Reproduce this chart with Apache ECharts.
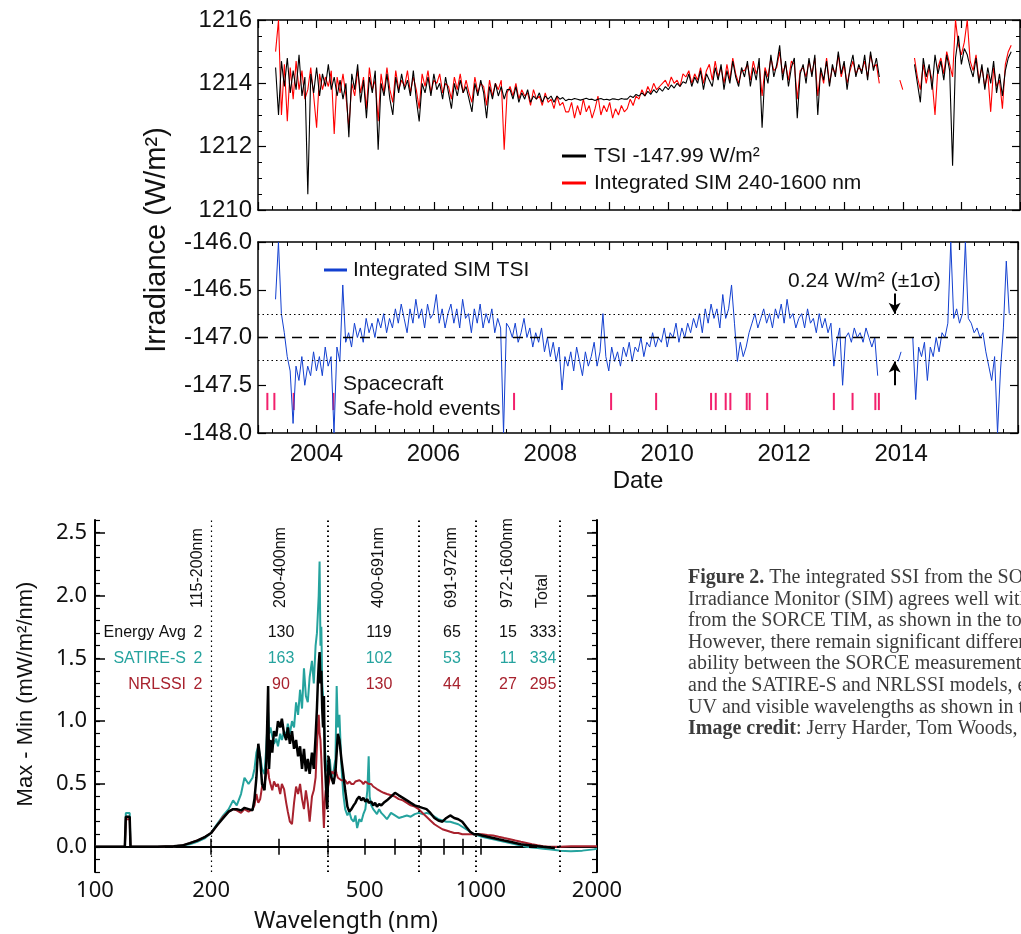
<!DOCTYPE html>
<html><head><meta charset="utf-8">
<script src="https://cdn.jsdelivr.net/npm/echarts@6/dist/echarts.min.js"></script>
<style>html,body{margin:0;padding:0;background:#fff}#c{width:1021px;height:934px}</style>
</head><body><div id="c"></div>
<script>
// ---------- time-series panels (regular grid, 0.05 yr) ----------
const dateStart = 2003.30;
const dateStep = 0.05;
const tsiShifted = [
1214.5,1213.0,1214.7,1213.9,1214.8,1213.7,1214.4,1213.8,1214.9,1213.6,1214.2,1210.5,1214.3,1213.7,1214.5,1213.6,1214.3,1213.9,1214.6,1213.8,
1214.2,1213.6,1214.1,1213.5,1214.0,1212.3,1214.3,1213.8,1214.6,1213.4,1214.1,1212.9,1214.2,1213.7,1214.4,1211.9,1214.0,1213.6,1214.3,1213.5,
1213.0,1214.2,1213.7,1214.3,1213.8,1214.1,1213.6,1214.4,1213.5,1212.8,1214.0,1213.7,1214.2,1213.6,1214.3,1213.8,1214.0,1213.5,1214.2,1213.7,
1213.2,1214.0,1213.6,1214.1,1213.7,1213.9,1213.5,1213.1,1214.0,1213.6,1214.1,1213.7,1212.9,1213.9,1213.5,1214.0,1213.6,1213.9,1213.5,1213.8,
1213.8,1213.5,1213.9,1213.4,1213.7,1213.5,1213.8,1213.4,1213.6,1213.5,1213.7,1213.4,1213.6,1213.5,1213.6,1213.4,1213.6,1213.5,1213.55,1213.45,
1213.5,1213.48,1213.52,1213.5,1213.47,1213.5,1213.53,1213.49,1213.5,1213.46,1213.5,1213.52,1213.48,1213.5,1213.47,1213.51,1213.5,1213.48,1213.52,1213.5,
1213.5,1213.6,1213.55,1213.65,1213.6,1213.7,1213.6,1213.75,1213.65,1213.8,1213.7,1213.85,1213.75,1213.9,1213.8,1213.95,1213.85,1214.0,1213.9,1214.05,
1214.0,1214.3,1213.9,1214.2,1214.0,1214.4,1213.8,1214.3,1214.1,1213.9,1214.5,1214.1,1214.6,1213.8,1214.4,1214.0,1214.7,1214.2,1213.9,1214.5,
1214.2,1214.7,1213.9,1214.5,1214.1,1214.8,1212.6,1214.4,1214.0,1214.9,1214.2,1214.6,1215.2,1214.1,1214.7,1213.9,1214.5,1214.8,1212.9,1214.3,
1214.6,1214.0,1214.8,1214.2,1214.9,1213.0,1214.5,1214.1,1214.7,1213.9,1214.6,1214.2,1215.0,1214.3,1214.7,1213.8,1214.5,1214.9,1214.2,1214.6,
1214.3,1214.9,1214.1,1215.0,1214.4,1214.8,1214.2,
null,null,null,null,null,null,null,null,null,null,null,
1214.6,1214.0,1213.4,1214.8,1214.2,1214.6,1213.8,1214.9,1214.3,1214.7,1214.1,1214.9,1214.4,1211.4,1214.8,1215.5,1214.6,1215.1,1214.9,1214.5,
1214.2,1214.8,1214.0,1214.6,1213.8,1214.5,1214.0,1214.7,1213.7,1214.3,1213.6,1214.4,1214.8,1215.0
];
const simIntegrated = [
1215.0,1216.0,1213.0,1214.6,1212.8,1214.5,1213.5,1214.7,1213.8,1214.4,1213.5,1213.8,1214.5,1213.6,1212.6,1214.3,1213.8,1214.2,1213.9,1214.4,
1212.4,1214.2,1213.7,1214.3,1213.6,1212.6,1214.0,1213.6,1214.4,1213.7,1214.2,1213.2,1214.5,1213.8,1214.1,1212.8,1214.3,1213.7,1214.5,1213.8,
1213.4,1214.4,1213.8,1214.1,1213.9,1214.4,1213.7,1214.2,1213.8,1213.2,1214.3,1213.9,1214.4,1213.7,1214.1,1214.0,1214.3,1213.7,1214.0,1213.9,
1213.5,1214.2,1213.8,1214.3,1213.7,1214.1,1213.7,1213.4,1214.2,1213.7,1214.0,1213.9,1213.3,1214.1,1213.6,1214.0,1213.8,1214.1,1211.9,1213.7,
1213.9,1213.6,1214.0,1213.5,1213.8,1213.6,1213.7,1213.3,1213.8,1213.5,1213.6,1213.3,1213.7,1213.4,1213.5,1213.2,1213.6,1213.3,1213.4,1213.1,
1213.1,1213.4,1212.9,1213.3,1213.0,1213.5,1213.1,1213.3,1212.9,1213.2,1213.6,1213.0,1213.3,1213.1,1213.4,1212.9,1213.2,1213.0,1213.3,1213.1,
1213.2,1213.5,1213.3,1213.6,1213.5,1213.8,1213.6,1213.9,1213.7,1214.0,1213.8,1213.9,1214.0,1214.1,1213.9,1214.2,1214.0,1214.1,1213.9,1214.3,
1214.2,1214.4,1214.0,1214.3,1214.1,1214.5,1214.0,1214.4,1214.6,1214.1,1214.7,1214.2,1214.5,1214.0,1214.6,1214.1,1214.8,1214.3,1214.0,1214.4,
1214.4,1214.6,1214.1,1214.7,1214.3,1214.6,1213.6,1214.5,1214.2,1214.8,1214.4,1214.5,1215.0,1214.3,1214.6,1214.1,1214.7,1214.6,1213.5,1214.4,
1214.5,1214.2,1214.7,1214.3,1214.8,1213.6,1214.4,1214.0,1214.8,1214.0,1214.5,1214.3,1214.9,1214.2,1214.6,1214.0,1214.4,1214.7,1214.3,1214.5,
1214.4,1214.7,1214.2,1214.9,1214.5,1214.6,1214.0,
null,null,null,null,null,null,1214.1,1213.8,null,null,null,
1214.8,1214.2,1213.8,1214.6,1214.0,1214.5,1214.1,1213.0,1214.5,1214.8,1214.3,1215.0,1214.6,1214.2,1216.0,1215.2,1214.9,1215.3,1216.0,1214.7,
1214.4,1214.9,1214.1,1214.5,1213.9,1214.3,1213.1,1214.5,1213.9,1214.1,1213.2,1214.6,1215.0,1215.2
];
const simMinusTsi = [
-146.6,-146.0,-146.75,-146.95,-147.2,-147.35,-147.9,-147.3,-147.45,-147.2,-147.5,-147.3,-147.4,-147.15,-147.35,-147.2,-147.4,-147.1,-147.3,-147.2,
-148.0,-147.1,-147.25,-146.45,-147.05,-146.95,-147.1,-146.85,-147.0,-146.9,-147.05,-146.8,-146.95,-146.85,-147.0,-146.8,-146.9,-146.75,-146.95,-146.8,
-146.9,-146.7,-146.85,-146.65,-146.8,-146.95,-146.7,-146.85,-146.6,-146.8,-146.7,-146.9,-146.65,-146.8,-146.75,-146.55,-146.85,-146.7,-146.9,-146.75,
-146.65,-146.85,-146.7,-146.9,-146.6,-146.8,-146.75,-146.95,-146.7,-146.85,-146.65,-146.9,-146.75,-146.85,-146.7,-146.95,-146.8,-146.9,-148.0,-146.85,
-146.9,-147.0,-146.85,-147.05,-146.95,-146.8,-147.0,-146.9,-147.1,-146.95,-147.05,-146.9,-147.15,-147.0,-147.2,-147.05,-147.25,-147.1,-147.55,-147.2,
-147.3,-147.15,-147.35,-147.1,-147.25,-147.4,-147.15,-147.3,-147.2,-147.05,-147.3,-147.15,-146.75,-147.2,-147.35,-147.1,-147.25,-147.15,-147.3,-147.1,
-147.2,-147.05,-147.25,-147.1,-147.15,-147.0,-147.2,-147.05,-147.1,-146.95,-147.1,-147.0,-147.05,-146.9,-147.1,-146.95,-147.0,-146.85,-147.05,-146.9,
-147.0,-146.85,-146.95,-146.8,-146.9,-146.75,-146.95,-146.7,-146.85,-146.65,-146.8,-146.7,-146.9,-146.55,-146.8,-146.7,-146.45,-146.85,-147.25,-147.05,
-147.2,-147.1,-146.95,-146.85,-146.75,-146.9,-146.8,-146.7,-146.85,-146.75,-146.9,-146.7,-146.8,-146.65,-146.85,-146.6,-146.8,-146.75,-146.9,-146.8,
-146.75,-146.9,-146.7,-146.85,-146.8,-146.95,-146.75,-146.9,-146.8,-146.95,-146.85,-147.3,-147.05,-146.9,-147.5,-147.0,-146.95,-147.05,-146.9,-147.0,
-146.95,-147.05,-146.9,-147.0,-147.1,-147.0,-147.4,
null,null,null,null,null,null,-147.25,-147.15,null,null,null,
-147.0,-147.65,-147.1,-147.2,-147.05,-147.45,-147.1,-147.2,-147.0,-147.15,-146.95,-147.0,-146.85,-146.0,-146.8,-146.7,-146.85,-146.75,-146.0,-146.8,
-146.85,-146.95,-146.9,-147.0,-146.95,-147.15,-147.3,-147.45,-147.2,-148.0,-147.35,-146.9,-146.2,-146.75
];
const safeHoldEvents = [2003.16,2003.28,2003.61,2004.29,2007.38,2009.04,2009.81,2010.75,2010.83,2011.0,2011.08,2011.36,2011.41,2011.71,2012.85,2013.17,2013.56,2013.62];
const diffMean = -147.0;
const diffSigma = 0.24;
const sigmaArrowDate = 2013.89;
const eventTop = -147.58, eventBottom = -147.76;

// ---------- spectrum panel ----------
const specSorce = [[100,0],[118,0],[119.5,0],[120.2,0.24],[123,0.24],[123.6,0],[130,0],[145,0],[160,0.005],[168,0.01],[176,0.03],[184,0.05],[193,0.08],[200,0.11],[207,0.17],[215,0.23],[222,0.28],[228,0.3],[233,0.3],[239,0.29],[244,0.31],[250,0.3],[256,0.29],[259,0.38],[262,0.55],[265,0.82],[268,0.7],[271,0.5],[275,0.45],[278,0.68],[281,1.28],[282.5,0.62],[285,0.85],[288,0.75],[291,0.92],[295,0.88],[298,1.0],[302,0.95],[305,1.02],[309,0.9],[313,0.85],[316,0.95],[320,0.82],[324,0.92],[328,0.78],[332,0.85],[336,0.72],[340,0.8],[344,0.62],[348,0.78],[352,0.6],[356,0.7],[360,0.58],[365,0.75],[369,0.62],[373,0.88],[376,1.1],[378,1.3],[380,1.45],[382,1.55],[384,1.3],[386,1.4],[388,1.1],[390,0.95],[392,1.2],[394,0.7],[396,0.55],[398,0.4],[400,0.3],[403,0.72],[406,0.6],[410,0.55],[415,0.5],[420,0.6],[423,0.75],[426,0.9],[430,0.85],[435,0.7],[440,0.58],[445,0.45],[451,0.32],[456,0.28],[462,0.3],[468,0.33],[473,0.35],[478,0.38],[484,0.4],[490,0.37],[496,0.39],[502,0.36],[508,0.38],[512,0.35],[515,0.34],[520,0.36],[526,0.33],[532,0.35],[538,0.32],[545,0.34],[552,0.33],[560,0.35],[571,0.37],[585,0.4],[599,0.43],[613,0.41],[628,0.39],[643,0.37],[658,0.35],[674,0.33],[690,0.32],[706,0.31],[723,0.3],[740,0.27],[758,0.23],[776,0.21],[795,0.2],[814,0.23],[833,0.25],[853,0.23],[874,0.22],[895,0.2],[916,0.16],[938,0.12],[960,0.1],[983,0.1],[1007,0.09],[1040,0.08],[1076,0.07],[1112,0.06],[1150,0.05],[1190,0.04],[1229,0.03],[1270,0.02],[1313,0.015],[1357,0.01],[1403,0.005],[1450,0],[1500,-0.005],[1556,-0.01]];
const specSatire = [[100,0],[118,0],[119.5,0],[120.2,0.27],[123,0.27],[123.6,0],[130,0],[145,0],[160,0.005],[168,0.01],[176,0.02],[184,0.04],[193,0.07],[200,0.11],[207,0.18],[215,0.25],[222,0.3],[228,0.37],[233,0.33],[239,0.42],[244,0.55],[250,0.5],[256,0.55],[259,0.62],[262,0.75],[265,0.8],[268,0.72],[271,0.62],[275,0.58],[278,0.8],[281,1.07],[282.5,0.9],[285,0.95],[288,0.88],[291,0.82],[295,0.86],[298,0.8],[302,0.9],[305,0.85],[309,0.92],[313,0.88],[316,0.98],[320,0.9],[324,1.0],[328,0.95],[332,1.15],[336,1.05],[340,1.25],[344,1.1],[348,1.42],[352,1.2],[356,1.15],[360,1.35],[365,1.48],[369,1.3],[373,1.6],[376,1.7],[378,1.85],[380,2.0],[382,2.27],[384,1.6],[386,1.75],[388,1.3],[390,1.2],[392,1.0],[394,0.8],[396,0.7],[398,0.6],[400,0.65],[403,0.6],[406,0.7],[410,0.55],[415,0.6],[420,0.7],[423,1.28],[426,0.95],[430,1.05],[435,0.65],[440,0.42],[445,0.3],[451,0.25],[456,0.28],[462,0.22],[468,0.2],[473,0.25],[478,0.15],[484,0.22],[490,0.2],[496,0.26],[502,0.3],[508,0.45],[512,0.72],[515,0.4],[520,0.33],[526,0.3],[532,0.28],[538,0.26],[545,0.3],[552,0.27],[560,0.25],[571,0.22],[585,0.27],[599,0.25],[613,0.23],[628,0.24],[643,0.25],[658,0.24],[674,0.26],[690,0.27],[706,0.26],[723,0.27],[740,0.26],[758,0.24],[776,0.22],[795,0.21],[814,0.2],[833,0.2],[853,0.19],[874,0.18],[895,0.16],[916,0.14],[938,0.12],[960,0.1],[983,0.09],[1007,0.08],[1040,0.07],[1076,0.06],[1112,0.05],[1150,0.04],[1190,0.03],[1229,0.02],[1270,0.01],[1313,0],[1357,-0.005],[1403,-0.01],[1450,-0.015],[1500,-0.02],[1556,-0.025],[1600,-0.03],[1712,-0.035],[1833,-0.03],[1962,-0.02],[2000,-0.015]];
const specNrlssi = [[100,0],[118,0],[119.5,0],[120.2,0.22],[123,0.22],[123.6,0],[130,0],[145,0],[160,0.005],[168,0.01],[176,0.03],[184,0.05],[193,0.08],[200,0.11],[207,0.17],[215,0.24],[222,0.28],[228,0.3],[233,0.29],[239,0.27],[244,0.3],[250,0.28],[256,0.3],[259,0.33],[262,0.42],[265,0.35],[268,0.38],[271,0.48],[275,0.5],[278,0.58],[281,0.62],[282.5,0.55],[285,0.5],[288,0.45],[291,0.52],[295,0.48],[298,0.5],[302,0.42],[305,0.5],[309,0.46],[313,0.35],[316,0.28],[320,0.2],[324,0.18],[328,0.35],[332,0.48],[336,0.42],[340,0.5],[344,0.38],[348,0.3],[352,0.45],[356,0.35],[360,0.2],[365,0.4],[369,0.45],[373,0.55],[376,0.8],[378,0.95],[380,1.05],[382,0.9],[384,0.85],[386,0.7],[388,0.5],[390,0.3],[392,0.15],[394,0.35],[396,0.45],[398,0.4],[400,0.45],[403,0.5],[406,0.55],[410,0.6],[415,0.58],[420,0.62],[423,0.58],[426,0.55],[430,0.55],[435,0.53],[440,0.52],[445,0.53],[451,0.5],[456,0.52],[462,0.5],[468,0.5],[473,0.52],[478,0.51],[484,0.53],[490,0.52],[496,0.5],[502,0.52],[508,0.51],[512,0.5],[515,0.49],[520,0.5],[526,0.48],[532,0.47],[538,0.46],[545,0.45],[552,0.44],[560,0.43],[571,0.42],[585,0.41],[599,0.4],[613,0.38],[628,0.37],[643,0.35],[658,0.33],[674,0.32],[690,0.3],[706,0.27],[723,0.24],[740,0.21],[758,0.18],[776,0.16],[795,0.14],[814,0.13],[833,0.12],[853,0.11],[874,0.11],[895,0.1],[916,0.1],[938,0.1],[960,0.1],[983,0.1],[1007,0.1],[1040,0.095],[1076,0.09],[1112,0.08],[1150,0.07],[1190,0.06],[1229,0.05],[1270,0.04],[1313,0.03],[1357,0.02],[1403,0.012],[1450,0.005],[1500,0],[1556,0],[1600,0],[1712,0.005],[1833,0.005],[1962,0.005],[2000,0.005]];
const bandEdges = [200,400,691,972,1600];
const bandNames = ['115-200nm','200-400nm','400-691nm','691-972nm','972-1600nm','Total'];
const energyAvg = [2,130,119,65,15,333];
const satireS = [2,163,102,53,11,334];
const nrlssi = [2,90,130,44,27,295];
const wlLabelValues = [100,200,500,1000,2000];
const wlTickValues = [100,200,300,400,500,600,700,800,900,1000,2000];
const specMajorValues = [0,0.5,1.0,1.5,2.0,2.5];

const captionLines = [
 '{b|Figure 2.} The integrated SSI from the SORCE Spectral',
 'Irradiance Monitor (SIM) agrees well with the TSI',
 'from the SORCE TIM, as shown in the top panels.',
 'However, there remain significant differences in vari-',
 'ability between the SORCE measurements (black line)',
 'and the SATIRE-S and NRLSSI models, especially in the',
 'UV and visible wavelengths as shown in the bottom panel.',
 '{b|Image credit}: Jerry Harder, Tom Woods, and Marty Snow'
];

// ---------- build ----------
const toSeries = arr => arr.map((v, i) => [+(dateStart + i * dateStep).toFixed(2), v]);
const SANS = '"Liberation Sans", Arial, sans-serif';
const NOTO = '"Noto Sans", "Open Sans", sans-serif';
const TEAL = '#25a39e', DRED = '#a8222e', BLUE = '#1340d0', PINK = '#f2206c';
const axisLine = {show: true, lineStyle: {color: '#000', width: 1.5}};

function timeX(grid, pos, labels) {
  return {
    gridIndex: grid, type: 'value', position: pos, min: 2003, max: 2016, interval: 1,
    axisLine, splitLine: {show: false},
    axisTick: {show: true, inside: true, length: 8, lineStyle: {color: '#000', width: 1.2}},
    minorTick: {show: true, splitNumber: 4, length: 4, lineStyle: {color: '#000', width: 1}},
    axisLabel: labels ? {show: true, fontSize: 24, fontFamily: SANS, color: '#111', margin: 9,
      formatter: v => (Math.round(v) % 2 === 0 && v < 2015.5) ? String(Math.round(v)) : ''} : {show: false},
    name: labels ? 'Date' : '', nameLocation: 'middle', nameGap: 36,
    nameTextStyle: {fontSize: 24, fontFamily: SANS, color: '#111'}
  };
}
function valY(grid, pos, min, max, interval, minor, labels, fmt) {
  return {
    gridIndex: grid, type: 'value', position: pos, min, max, interval,
    axisLine, splitLine: {show: false},
    axisTick: {show: true, inside: true, length: 8, lineStyle: {color: '#000', width: 1.2}},
    minorTick: {show: minor > 0, splitNumber: minor || 5, length: 4, lineStyle: {color: '#000', width: 1}},
    axisLabel: labels ? {show: true, fontSize: 24, fontFamily: SANS, color: '#111', margin: 6, formatter: fmt} : {show: false}
  };
}
function specX(pos, labels) {
  return {
    gridIndex: 2, type: 'log', logBase: 10, position: pos, min: 100, max: 2000,
    axisLine: {show: true, lineStyle: {color: '#000', width: 2}}, splitLine: {show: false},
    axisTick: {show: true, inside: true, length: 8, customValues: wlTickValues, lineStyle: {color: '#000', width: 1.5}},
    minorTick: {show: false},
    axisLabel: labels ? {show: true, customValues: wlLabelValues, fontSize: 22, fontFamily: NOTO, color: '#111', margin: 8,
      formatter: v => String(Math.round(v))} : {show: false},
    name: labels ? 'Wavelength (nm)' : '', nameLocation: 'middle', nameGap: 38,
    nameTextStyle: {fontSize: 23, fontFamily: NOTO, color: '#111'}
  };
}
function specY(pos, major, labels) {
  const o = {
    gridIndex: 2, type: 'value', position: pos, min: -0.2, max: 2.6,
    splitLine: {show: false}
  };
  if (major) {
    o.axisLine = {show: true, lineStyle: {color: '#000', width: 2}};
    o.axisTick = {show: true, inside: true, length: 10, customValues: specMajorValues, lineStyle: {color: '#000', width: 1.5}};
    o.axisLabel = labels ? {show: true, customValues: specMajorValues, fontSize: 22, fontFamily: NOTO, color: '#111', margin: 8,
      formatter: v => v.toFixed(1)} : {show: false};
  } else {
    o.interval = 0.1;
    o.axisLine = {show: false};
    o.axisTick = {show: true, inside: true, length: 5, lineStyle: {color: '#000', width: 1.2}};
    o.axisLabel = {show: false};
  }
  return o;
}

const chart = echarts.init(document.getElementById('c'), null, {renderer: 'canvas'});
const dotted = {color: '#000', width: 1.2, type: [1.5, 3]};

const graphics = [
  {type: 'text', x: 157, y: 240, rotation: Math.PI / 2, style: {text: 'Irradiance (W/m²)', font: '29px ' + SANS, fill: '#111', align: 'center', verticalAlign: 'middle'}},
  {type: 'line', shape: {x1: 562, y1: 156, x2: 586, y2: 156}, style: {stroke: '#000', lineWidth: 3}},
  {type: 'text', x: 594, y: 156, style: {text: 'TSI -147.99 W/m²', font: '21px ' + SANS, fill: '#111', verticalAlign: 'middle'}},
  {type: 'line', shape: {x1: 562, y1: 183, x2: 586, y2: 183}, style: {stroke: '#ff0000', lineWidth: 3}},
  {type: 'text', x: 594, y: 183, style: {text: 'Integrated SIM 240-1600 nm', font: '21px ' + SANS, fill: '#111', verticalAlign: 'middle'}},
  {type: 'line', shape: {x1: 324, y1: 270, x2: 347, y2: 270}, style: {stroke: BLUE, lineWidth: 3}},
  {type: 'text', x: 353, y: 270, style: {text: 'Integrated SIM TSI', font: '21px ' + SANS, fill: '#111', verticalAlign: 'middle'}},
  {type: 'text', x: 788, y: 281, style: {text: '0.24 W/m² (±1σ)', font: '21px ' + SANS, fill: '#111', verticalAlign: 'middle'}},
  {type: 'text', x: 343, y: 384, style: {text: 'Spacecraft', font: '21px ' + SANS, fill: '#111', verticalAlign: 'middle'}},
  {type: 'text', x: 343, y: 409, style: {text: 'Safe-hold events', font: '21px ' + SANS, fill: '#111', verticalAlign: 'middle'}},
  {type: 'text', x: 26, y: 694, rotation: Math.PI / 2, style: {text: 'Max - Min (mW/m²/nm)', font: '22px ' + SANS, fill: '#111', align: 'center', verticalAlign: 'middle'}},
  {type: 'text', x: 688, y: 567, style: {
    text: captionLines.join('\n'), font: '20px "Liberation Serif", serif', fill: '#3c3c3c', lineHeight: 21.6,
    rich: {b: {fontWeight: 'bold', fontFamily: '"Liberation Serif", serif', fontSize: 20, fill: '#3c3c3c', lineHeight: 21.6}}
  }}
];
const colX = [198, 281, 379, 452, 508, 543];
const rowY = [633, 659, 685];
const rows = [energyAvg, satireS, nrlssi];
const rowColors = ['#111', TEAL, DRED];
const rowNames = ['Energy Avg', 'SATIRE-S', 'NRLSSI'];
bandNames.forEach((n, j) => {
  graphics.push({type: 'text', x: colX[j], y: 608, rotation: Math.PI / 2, style: {text: n, font: '16px ' + SANS, fill: '#111', align: 'left', verticalAlign: 'middle'}});
});
rows.forEach((r, i) => {
  graphics.push({type: 'text', x: 186, y: rowY[i], style: {text: rowNames[i], font: '16px ' + SANS, fill: rowColors[i], align: 'right', verticalAlign: 'middle'}});
  r.forEach((v, j) => {
    graphics.push({type: 'text', x: colX[j], y: rowY[i], style: {text: String(v), font: '16px ' + SANS, fill: rowColors[i], align: 'center', verticalAlign: 'middle'}});
  });
});

chart.setOption({
  animation: false,
  backgroundColor: '#fff',
  grid: [
    {left: 258, top: 20, width: 762, height: 190},
    {left: 258, top: 242, width: 762, height: 191},
    {left: 95, top: 520, width: 502, height: 353}
  ],
  xAxis: [timeX(0, 'bottom', false), timeX(0, 'top', false), timeX(1, 'bottom', true), timeX(1, 'top', false),
          specX('bottom', true), specX('top', false)],
  yAxis: [
    valY(0, 'left', 1210, 1216, 2, 4, true, v => String(v)),
    valY(0, 'right', 1210, 1216, 2, 4, false),
    valY(1, 'left', -148, -146, 0.5, 0, true, v => v.toFixed(1)),
    valY(1, 'right', -148, -146, 0.5, 0, false),
    specY('left', true, true), specY('left', false), specY('right', true, false), specY('right', false)
  ],
  graphic: graphics,
  series: [
    {type: 'line', name: 'Integrated SIM 240-1600 nm', xAxisIndex: 0, yAxisIndex: 0, data: toSeries(simIntegrated),
     showSymbol: false, symbol: 'none', lineStyle: {color: '#ff0000', width: 1.1}, silent: true},
    {type: 'line', name: 'TSI -147.99 W/m²', xAxisIndex: 0, yAxisIndex: 0, data: toSeries(tsiShifted),
     showSymbol: false, symbol: 'none', lineStyle: {color: '#000', width: 1.1}, silent: true},
    {type: 'line', name: 'Integrated SIM TSI', xAxisIndex: 2, yAxisIndex: 2, data: toSeries(simMinusTsi),
     showSymbol: false, symbol: 'none', lineStyle: {color: BLUE, width: 1}, silent: true,
     markLine: {silent: true, symbol: 'none', label: {show: false}, animation: false,
       data: [
         {yAxis: diffMean + diffSigma, lineStyle: dotted},
         {yAxis: diffMean, lineStyle: {color: '#000', width: 1.3, type: [10, 7]}},
         {yAxis: diffMean - diffSigma, lineStyle: dotted},
         [{coord: [sigmaArrowDate, diffMean + diffSigma + 0.22], symbol: 'none'},
          {coord: [sigmaArrowDate, diffMean + diffSigma + 0.01], symbol: 'arrow', symbolSize: [9, 11], lineStyle: {color: '#000', width: 2, type: 'solid'}}],
         [{coord: [sigmaArrowDate, diffMean - diffSigma - 0.26], symbol: 'none'},
          {coord: [sigmaArrowDate, diffMean - diffSigma - 0.01], symbol: 'arrow', symbolSize: [9, 11], lineStyle: {color: '#000', width: 2, type: 'solid'}}]
       ]}},
    {type: 'custom', name: 'Safe-hold events', xAxisIndex: 2, yAxisIndex: 2, silent: true,
     data: safeHoldEvents.map(d => [d, eventTop]),
     renderItem: (params, api) => {
       const x = api.value(0);
       const p1 = api.coord([x, eventTop]);
       const p2 = api.coord([x, eventBottom]);
       return {type: 'line', shape: {x1: p1[0], y1: p1[1], x2: p2[0], y2: p2[1]}, style: {stroke: PINK, lineWidth: 2}};
     }},
    {type: 'line', name: 'SATIRE-S', xAxisIndex: 4, yAxisIndex: 4, data: specSatire,
     showSymbol: false, symbol: 'none', lineStyle: {color: TEAL, width: 2}, silent: true,
     markLine: {silent: true, symbol: 'none', label: {show: false}, animation: false,
       data: bandEdges.map((v, i) => ({xAxis: v, lineStyle: {color: '#000', width: i === 0 ? 1.2 : 2, type: [1.5, 3.5]}})).concat([
         [{coord: [100, 0]}, {coord: [1600, 0], lineStyle: {color: '#000', width: 2, type: [8, 6]}}]
       ])}},
    {type: 'line', name: 'NRLSSI', xAxisIndex: 4, yAxisIndex: 4, data: specNrlssi,
     showSymbol: false, symbol: 'none', lineStyle: {color: DRED, width: 2}, silent: true},
    {type: 'line', name: 'SORCE Energy Avg', xAxisIndex: 4, yAxisIndex: 4, data: specSorce,
     showSymbol: false, symbol: 'none', lineStyle: {color: '#000', width: 2.5}, silent: true}
  ]
});
</script></body></html>
